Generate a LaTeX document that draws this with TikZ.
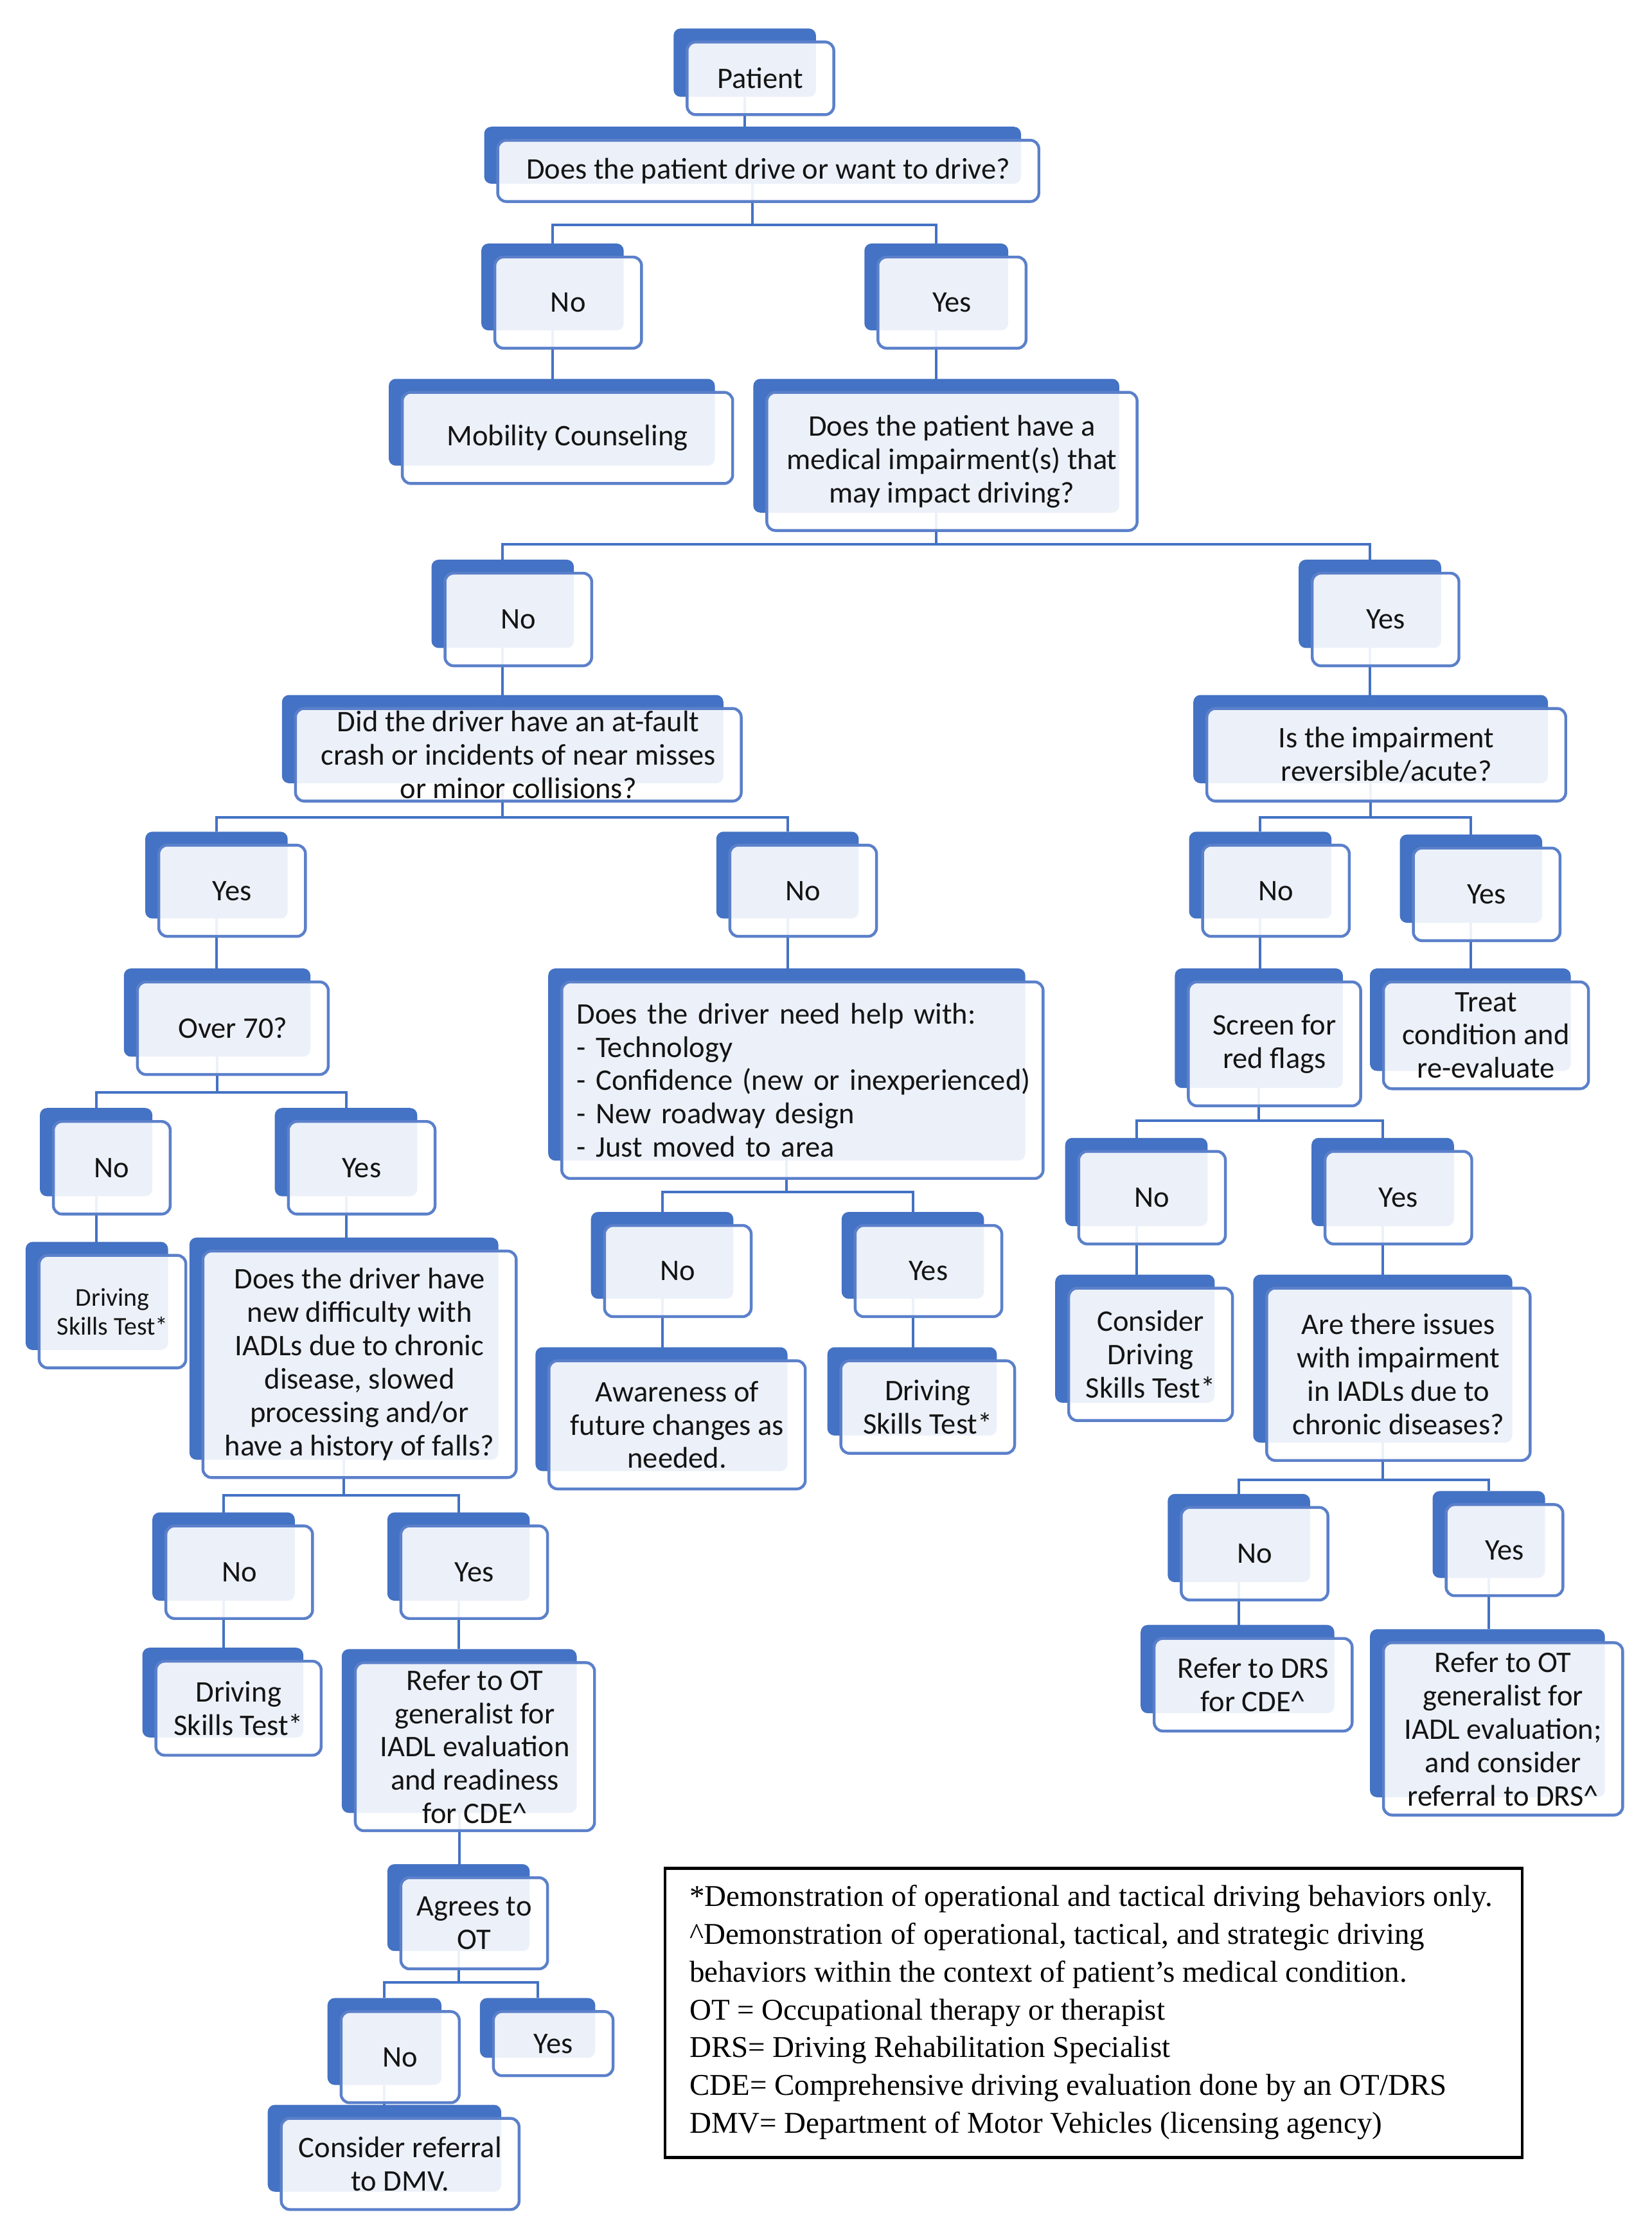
\documentclass[tikz,border=0pt]{standalone}
\usepackage{fontspec}
\setmainfont{Carlito}
\newfontfamily\legfont{Liberation Serif}
\usetikzlibrary{calc}
\pgfdeclarelayer{bg}
\pgfsetlayers{bg,main}
\definecolor{dblue}{HTML}{4472C4}
\definecolor{bblue}{HTML}{5B80CA}
\definecolor{txt}{HTML}{141414}
\tikzset{
  backbox/.style={fill=dblue, draw=none, rounded corners=5pt, inner sep=0pt, outer sep=0pt},
  frontbox/.style={fill=white, fill opacity=0.9, text opacity=1, draw=bblue, line width=2pt,
     rounded corners=6pt, inner sep=0pt, outer sep=0pt, align=center, text=txt,
     font=\fontsize{21}{23.4}\selectfont},
  conn/.style={draw=dblue, line width=1.8pt},
  legendbox/.style={draw=black, line width=2pt, fill=white, inner sep=0pt,
     minimum width=602pt, minimum height=203pt},
  legendtext/.style={inner sep=0pt, align=left, anchor=west, text=black,
     font=\legfont\fontsize{21.2}{26.5}\selectfont}
}
\newcommand{\fbx}[7]{%
  \node[backbox, minimum width={#4-#2}, minimum height={#5-#3}] (#1) at ({(#2+#4)/2},{(#3+#5)/2}) {};
  \node[frontbox, minimum width={#4-#2+3}, minimum height={#5-#3+3}, #6] (#1-f) at ({(#2+#4)/2+11},{(#3+#5)/2+11}) {#7};
}
\newcommand{\fork}[4]{%
  \coordinate (#1bar) at (0,#4);
  \draw[conn] (#1.south) -- (#1bar -| #1.south);
  \draw[conn] (#2.north) |- (#1bar -| #1.south) -| (#3.north);
}
\newcommand{\vlink}[2]{%
  \draw[conn] (#1.south) -- (#1.south |- #2.north);
}
\begin{document}
\begin{tikzpicture}[x=1pt, y=-1pt]
\useasboundingbox (0,0) rectangle (1160,1568);
\begin{pgfonlayer}{bg}
\fill[white] (0,0) rectangle (1160,1568);
\end{pgfonlayer}

\fbx{patient}{473}{20}{573}{68}{}{Patient}
\fbx{q1}{340}{89}{717}{129}{}{Does the patient drive or want to drive?}
\fbx{no1}{338}{171}{438}{232}{}{No}
\fbx{yes1}{607}{171}{708}{232}{}{Yes}
\fbx{mob}{273}{266}{502}{327}{}{Mobility Counseling}
\fbx{q2}{529}{266}{786}{360}{}{Does the patient have a\\medical impairment(s) that\\may impact driving?}
\fbx{no2}{303}{393}{403}{455}{}{No}
\fbx{yes2}{912}{393}{1012}{455}{}{Yes}
\fbx{q3}{198}{488}{508}{550}{}{Did the driver have an at-fault\\crash or incidents of near misses\\or minor collisions?}
\fbx{q4}{838}{488}{1087}{550}{}{Is the impairment\\reversible/acute?}
\fbx{yes3}{102}{584}{202}{645}{}{Yes}
\fbx{no3}{503}{584}{603}{645}{}{No}
\fbx{no4}{835}{584}{935}{645}{}{No}
\fbx{yes4}{983}{586}{1083}{648}{}{Yes}
\fbx{over}{87}{680}{218}{742}{}{Over 70?}
\fbx{q5}{385}{680}{720}{815}{align=left, text width=317pt}{\mbox{Does the driver need help with:}\\\mbox{- Technology}\\\mbox{- Confidence (new or inexperienced)}\\\mbox{- New roadway design}\\\mbox{- Just moved to area}}
\fbx{screen}{825}{680}{943}{764}{}{Screen for\\red flags}
\fbx{treat}{962}{680}{1103}{752}{}{Treat\\condition and\\re-evaluate}
\fbx{no5}{28}{778}{107}{840}{}{No}
\fbx{yes5}{193}{778}{293}{840}{}{Yes}
\fbx{no6}{748}{799}{848}{861}{}{No}
\fbx{yes6}{921}{799}{1021}{861}{}{Yes}
\fbx{dst1}{18}{872}{118}{948}{font=\fontsize{18}{20.5}\selectfont}{Driving\\Skills Test*}
\fbx{q6}{133}{869}{350}{1025}{}{Does the driver have\\new difficulty with\\IADLs due to chronic\\disease, slowed\\processing and/or\\have a history of falls?}
\fbx{no7}{415}{851}{515}{912}{}{No}
\fbx{yes7}{591}{851}{691}{912}{}{Yes}
\fbx{cdst}{741}{895}{853}{985}{}{Consider\\Driving\\Skills Test*}
\fbx{q7}{880}{895}{1062}{1013}{}{Are there issues\\with impairment\\in IADLs due to\\chronic diseases?}
\fbx{aware}{376}{946}{553}{1033}{}{Awareness of\\future changes as\\needed.}
\fbx{dst2}{581}{946}{700}{1008}{}{Driving\\Skills Test*}
\fbx{no8}{107}{1062}{207}{1124}{}{No}
\fbx{yes8}{272}{1062}{372}{1124}{}{Yes}
\fbx{no9}{820}{1049}{920}{1111}{}{No}
\fbx{yes9}{1006}{1047}{1085}{1108}{}{Yes}
\fbx{dst3}{100}{1157}{213}{1220}{}{Driving\\Skills Test*}
\fbx{refot}{240}{1158}{405}{1273}{}{Refer to OT\\generalist for\\IADL evaluation\\and readiness\\for CDE\textasciicircum}
\fbx{refdrs}{801}{1141}{937}{1203}{}{Refer to DRS\\for CDE\textasciicircum}
\fbx{refot2}{962}{1144}{1127}{1262}{}{Refer to OT\\generalist for\\IADL evaluation;\\and consider\\referral to DRS\textasciicircum}
\fbx{agrees}{272}{1309}{372}{1370}{}{Agrees to\\OT}
\fbx{no10}{230}{1403}{310}{1464}{}{No}
\fbx{yes10}{337}{1403}{418}{1445}{}{Yes}
\fbx{dmv}{188}{1478}{352}{1539}{}{Consider referral\\to DMV.}

\node[legendbox] (legend) at (768,1413.5) {};
\node[legendtext] (legtext) at (484,1413) {*Demonstration of operational and tactical driving behaviors only.\\
\textasciicircum Demonstration of operational, tactical, and strategic driving\\
behaviors within the context of patient’s medical condition.\\
OT = Occupational therapy or therapist\\
DRS= Driving Rehabilitation Specialist\\
CDE= Comprehensive driving evaluation done by an OT/DRS\\
DMV= Department of Motor Vehicles (licensing agency)};

\begin{pgfonlayer}{bg}
\vlink{patient}{q1}
\fork{q1}{no1}{yes1}{158}
\vlink{no1}{mob}
\vlink{yes1}{q2}
\fork{q2}{no2}{yes2}{382}
\vlink{no2}{q3}
\vlink{yes2}{q4}
\fork{q3}{yes3}{no3}{574}
\fork{q4}{no4}{yes4}{574}
\vlink{yes3}{over}
\vlink{no3}{q5}
\vlink{no4}{screen}
\vlink{yes4}{treat}
\fork{over}{no5}{yes5}{767}
\fork{q5}{no7}{yes7}{837}
\fork{screen}{no6}{yes6}{787}
\vlink{no5}{dst1}
\vlink{yes5}{q6}
\vlink{no7}{aware}
\vlink{yes7}{dst2}
\vlink{no6}{cdst}
\vlink{yes6}{q7}
\fork{q6}{no8}{yes8}{1050}
\fork{q7}{no9}{yes9}{1039}
\vlink{no8}{dst3}
\vlink{yes8}{refot}
\vlink{no9}{refdrs}
\vlink{yes9}{refot2}
\vlink{refot}{agrees}
\fork{agrees}{no10}{yes10}{1392}
\vlink{no10}{dmv}
\end{pgfonlayer}
\end{tikzpicture}
\end{document}
